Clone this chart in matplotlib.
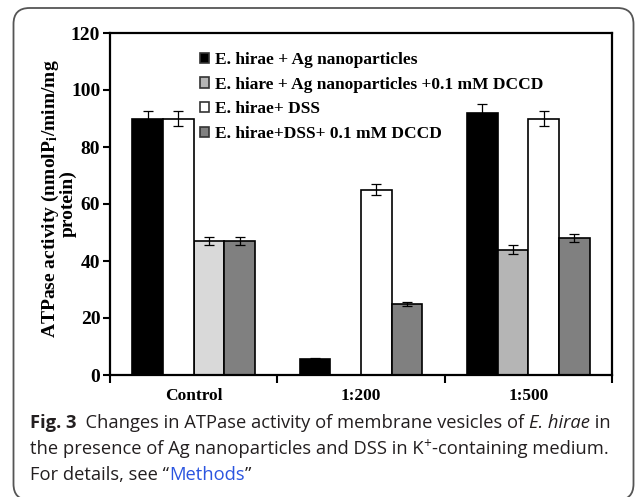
import numpy as np
import matplotlib
matplotlib.use("Agg")
import matplotlib.pyplot as plt
from matplotlib.patches import Patch, FancyBboxPatch
from matplotlib.transforms import IdentityTransform


# =====================================================
# 1. Data
# =====================================================

groups = ["Control", "1:200", "1:500"]

series_labels = [
    "E. hirae + Ag nanoparticles",
    "E. hiare + Ag nanoparticles +0.1 mM DCCD",
    "E. hirae+ DSS",
    "E. hirae+DSS+ 0.1 mM DCCD",
]

ag = [90, 5.5, 92]
ag_dccd = [47, np.nan, 44]
dss = [90, 65, 90]
dss_dccd = [47, 25, 48]

ag_err = [2.5, 0.3, 3.0]
ag_dccd_err = [1.3, 0.0, 1.5]
dss_err = [2.5, 2.0, 2.5]
dss_dccd_err = [1.3, 0.7, 1.5]

# slot of each series inside each group (control has DSS second)
slots = [
    [0, 2, 1, 3],
    [0, 1, 2, 3],
    [0, 1, 2, 3],
]

values = [ag, ag_dccd, dss, dss_dccd]
errors = [ag_err, ag_dccd_err, dss_err, dss_dccd_err]
colors = ["#000000", "#b5b5b5", "#ffffff", "#808080"]
control_light = "#d9d9d9"


# =====================================================
# 2. Figure
# =====================================================

W, H = 635, 497
fig = plt.figure(figsize=(W / 100, H / 100), dpi=100)
fig.patch.set_facecolor("white")

plt.rcParams["mathtext.fontset"] = "stix"

serif = "Liberation Serif"
sans = "Open Sans"

ax = fig.add_axes([110 / W, 1 - 375 / H, 502 / W, 342 / H])

bw = 0.183
x = np.arange(len(groups))

for s in range(4):
    for g in range(len(groups)):
        v = values[s][g]
        if np.isnan(v):
            continue
        xpos = x[g] + (slots[g][s] - 1.5) * bw
        col = colors[s]
        if s == 1 and g == 0:
            col = control_light
        ax.bar(xpos, v, width=bw, color=col, edgecolor="black",
               linewidth=1.2, zorder=2)
        ax.errorbar(xpos, v, yerr=errors[s][g], fmt="none",
                    ecolor="black", elinewidth=0.9, capsize=3.5,
                    capthick=0.9, zorder=3)

ax.set_xlim(-0.5, 2.5)
ax.set_ylim(0, 120)
ax.set_yticks(np.arange(0, 121, 20))
ax.set_xticks([-0.5, 0.5, 1.5, 2.5])
ax.set_xticklabels([])
ax.set_xticks(x, minor=True)
ax.set_xticklabels(groups, minor=True)

ax.tick_params(axis="x", which="major", direction="out", length=6, width=1.5)
ax.tick_params(axis="x", which="minor", length=0, pad=9)
ax.tick_params(axis="y", direction="out", length=5, width=1.5, pad=2)

for lab in ax.get_yticklabels() + ax.get_xticklabels(minor=True):
    lab.set_fontfamily(serif)
    lab.set_fontweight("bold")
for lab in ax.get_yticklabels():
    lab.set_fontsize(14)
for lab in ax.get_xticklabels(minor=True):
    lab.set_fontsize(12.5)

for sp in ax.spines.values():
    sp.set_linewidth(1.6)
    sp.set_color("black")

# y label, two centred lines
fig.text(50 / W, 1 - 199 / H, "ATPase activity (nmolP$_\\mathbf{i}$/mim/mg",
         rotation=90, ha="center", va="center",
         fontsize=14, fontweight="bold", family=serif)
fig.text(68 / W, 1 - 204 / H, "protein)",
         rotation=90, ha="center", va="center",
         fontsize=14, fontweight="bold", family=serif)

# legend
handles = [Patch(facecolor=c, edgecolor="#333333", linewidth=1.2)
           for c in colors]
leg = ax.legend(handles, series_labels, loc="upper left",
                bbox_to_anchor=(193 / W, 1 - 45 / H),
                bbox_transform=fig.transFigure,
                frameon=False, handlelength=0.55, handleheight=0.55,
                handletextpad=0.3, labelspacing=0.5, borderaxespad=0,
                prop={"family": serif, "weight": "bold", "size": 12.5})


# =====================================================
# 3. Caption and rounded frame
# =====================================================

frame = FancyBboxPatch((13.5, -3), 620, 492,
                       boxstyle="round,pad=0,rounding_size=16",
                       transform=IdentityTransform(),
                       facecolor="none", edgecolor="#555555", linewidth=1.3)
fig.add_artist(frame)

txt_color = "#231f20"
cap_size = 13.2

caption_lines = [
    [("Fig. 3", "bold", "normal", txt_color, 0, 1.0),
     ("  Changes in ATPase activity of membrane vesicles of ", "normal",
      "normal", txt_color, 0, 1.0),
     ("E. hirae", "normal", "italic", txt_color, 0, 1.0),
     (" in", "normal", "normal", txt_color, 0, 1.0)],
    [("the presence of Ag nanoparticles and DSS in K", "normal", "normal",
      txt_color, 0, 1.0),
     ("+", "normal", "normal", txt_color, 6, 0.75),
     ("-containing medium.", "normal", "normal", txt_color, 0, 1.0)],
    [("For details, see \u201c", "normal", "normal", txt_color, 0, 1.0),
     ("Methods", "normal", "normal", "#2b55e0", 0, 1.0),
     ("\u201d", "normal", "normal", txt_color, 0, 1.0)],
]
line_y = [428, 454, 480]

renderer = fig.canvas.get_renderer()
for pieces, yy in zip(caption_lines, line_y):
    xx = 30
    for text, weight, style, col, dy, scale in pieces:
        t = fig.text(xx / W, 1 - (yy - dy) / H, text, ha="left",
                     va="baseline", family=sans, fontsize=cap_size * scale,
                     fontweight=weight, fontstyle=style, color=col)
        bb = t.get_window_extent(renderer)
        xx += bb.width

fig.savefig("out.png", dpi=100)
